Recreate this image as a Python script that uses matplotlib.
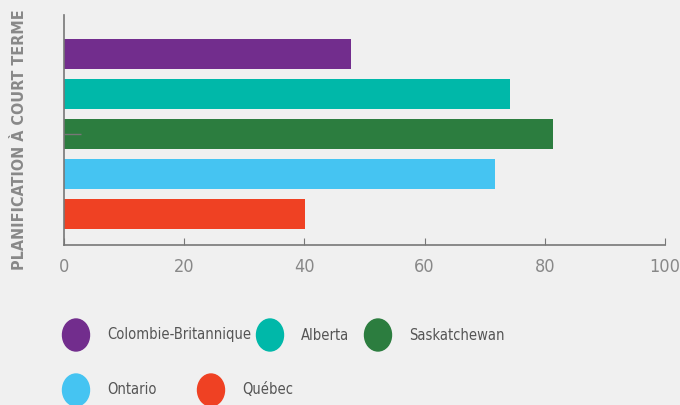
import matplotlib.pyplot as plt
from matplotlib.patches import Ellipse

provinces = ["Colombie-Britannique", "Alberta", "Saskatchewan", "Ontario", "Québec"]
values = [47.8, 74.2, 81.4, 71.7, 40.1]
colors = ["#722d8d", "#00b8a9", "#2c7d3f", "#45c4f2", "#ef4123"]
category = "PLANIFICATION À COURT TERME"
xticks = [0, 20, 40, 60, 80, 100]

plt.rcParams["font.family"] = ["DejaVu Sans"]
plt.rcParams["font.stretch"] = "condensed"

W, H = 680, 405
fig = plt.figure(figsize=(W / 100, H / 100), dpi=100)
fig.patch.set_facecolor("#f0f0f0")
ax = fig.add_axes([64 / W, 1 - 245 / H, (665 - 64) / W, (245 - 15) / H])
ax.set_facecolor("#f0f0f0")

pos = list(range(len(values)))
ax.barh(pos, values, height=0.75, color=colors)
ax.set_ylim(4.775, -0.975)
ax.set_xlim(0, 100)

for s in ["top", "right"]:
    ax.spines[s].set_visible(False)
for s in ["left", "bottom"]:
    ax.spines[s].set_color("#777777")
    ax.spines[s].set_linewidth(1.2)

ax.set_xticks(xticks)
ax.tick_params(axis="x", direction="in", length=5, color="#777777",
               labelcolor="#888888", labelsize=13, pad=9)
ax.set_yticks([2])
ax.set_yticklabels([""])
ax.tick_params(axis="y", direction="in", length=12, color="#777777", width=1)

fig.text(20 / W, 1 - 140 / H, category, rotation=90, ha="center", va="center",
         fontsize=11.5, fontweight="bold", color="#888888")

# legend, laid out in flowing rows
leg_pos = [(76, 335), (270, 335), (378, 335), (76, 390), (211, 390)]
for (px, py), name, c in zip(leg_pos, provinces, colors):
    fig.add_artist(Ellipse((px / W, 1 - py / H), 27 / W, 32 / H,
                           transform=fig.transFigure, color=c))
    fig.text((px + 31) / W, 1 - py / H, name, ha="left", va="center",
             fontsize=10.5, color="#555555")

fig.savefig("out.png", dpi=100, facecolor=fig.get_facecolor())
